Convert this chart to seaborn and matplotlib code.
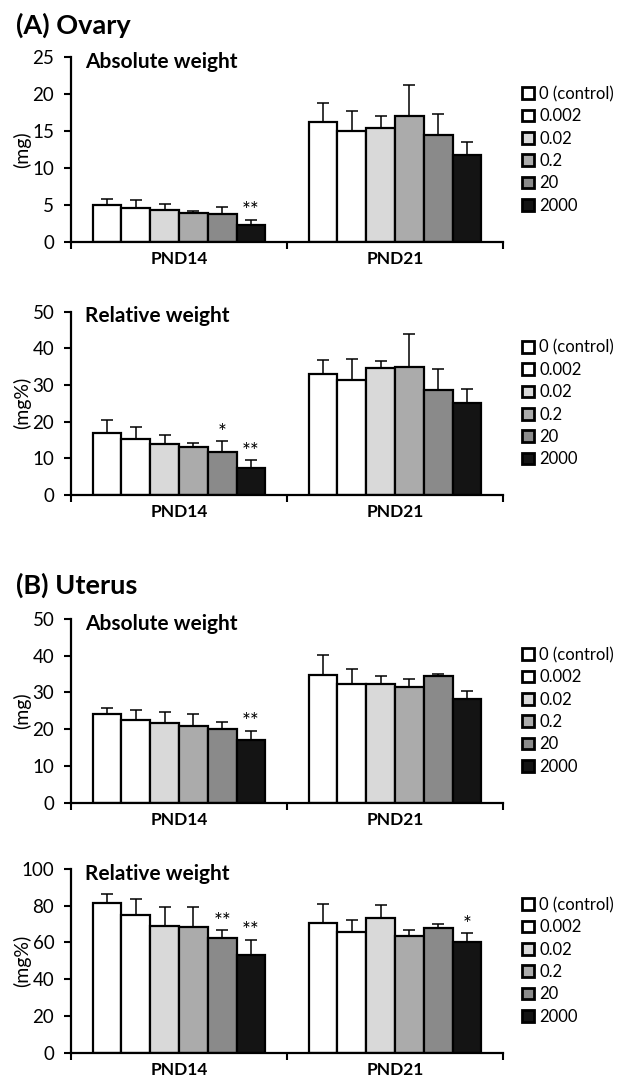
import numpy as np
import pandas as pd
import matplotlib
matplotlib.use("Agg")
import matplotlib.pyplot as plt
from matplotlib.patches import Patch
import seaborn as sns

# ---------------- data ----------------
days = ["PND14", "PND21"]
doses = ["0 (control)", "0.002", "0.02", "0.2", "20", "2000"]
colors = ["#ffffff", "#ffffff", "#d9d9d9", "#ababab", "#8a8a8a", "#141414"]

# Ovary absolute weight (mg)
ov_abs_14 = [5.0, 4.6, 4.4, 4.0, 3.8, 2.4]
ov_abs_14_se = [0.9, 1.1, 0.8, 0.2, 1.0, 0.6]
ov_abs_21 = [16.2, 15.1, 15.4, 17.1, 14.5, 11.8]
ov_abs_21_se = [2.6, 2.6, 1.7, 4.2, 2.9, 1.8]
ov_abs_sig_14 = ["", "", "", "", "", "**"]
ov_abs_sig_21 = ["", "", "", "", "", ""]

# Ovary relative weight (mg%)
ov_rel_14 = [16.8, 15.4, 14.0, 13.2, 11.8, 7.4]
ov_rel_14_se = [3.7, 3.2, 2.4, 1.1, 2.8, 2.1]
ov_rel_21 = [32.9, 31.3, 34.7, 35.0, 28.6, 25.0]
ov_rel_21_se = [4.0, 5.8, 1.8, 9.0, 5.9, 3.8]
ov_rel_sig_14 = ["", "", "", "", "*", "**"]
ov_rel_sig_21 = ["", "", "", "", "", ""]

# Uterus absolute weight (mg)
ut_abs_14 = [24.1, 22.6, 21.7, 20.8, 20.0, 17.0]
ut_abs_14_se = [1.6, 2.5, 3.0, 3.4, 1.9, 2.5]
ut_abs_21 = [34.8, 32.2, 32.2, 31.6, 34.5, 28.2]
ut_abs_21_se = [5.4, 4.1, 2.3, 2.0, 0.6, 2.1]
ut_abs_sig_14 = ["", "", "", "", "", "**"]
ut_abs_sig_21 = ["", "", "", "", "", ""]

# Uterus relative weight (mg%)
ut_rel_14 = [81.5, 74.7, 68.9, 68.5, 62.2, 53.3]
ut_rel_14_se = [4.9, 8.8, 10.2, 11.0, 4.5, 8.0]
ut_rel_21 = [70.5, 65.8, 73.3, 63.6, 68.0, 60.0]
ut_rel_21_se = [10.2, 6.4, 7.2, 3.1, 2.0, 5.0]
ut_rel_sig_14 = ["", "", "", "", "**", "**"]
ut_rel_sig_21 = ["", "", "", "", "", "*"]

panels = [
    dict(m=(ov_abs_14, ov_abs_21), s=(ov_abs_14_se, ov_abs_21_se), sig=(ov_abs_sig_14, ov_abs_sig_21),
         ylim=25, step=5, ylabel="(mg)", sub="Absolute weight", top=57.3, bot=242.3),
    dict(m=(ov_rel_14, ov_rel_21), s=(ov_rel_14_se, ov_rel_21_se), sig=(ov_rel_sig_14, ov_rel_sig_21),
         ylim=50, step=10, ylabel="(mg%)", sub="Relative weight", top=311.7, bot=495.0),
    dict(m=(ut_abs_14, ut_abs_21), s=(ut_abs_14_se, ut_abs_21_se), sig=(ut_abs_sig_14, ut_abs_sig_21),
         ylim=50, step=10, ylabel="(mg)", sub="Absolute weight", top=619.0, bot=802.7),
    dict(m=(ut_rel_14, ut_rel_21), s=(ut_rel_14_se, ut_rel_21_se), sig=(ut_rel_sig_14, ut_rel_sig_21),
         ylim=100, step=20, ylabel="(mg%)", sub="Relative weight", top=869.0, bot=1052.7),
]

# ---------------- style ----------------
sns.set_theme(style="white")
plt.rcParams["font.family"] = ["Lato", "DejaVu Sans"]
plt.rcParams["axes.edgecolor"] = "black"
plt.rcParams["xtick.color"] = "black"
plt.rcParams["ytick.color"] = "black"
plt.rcParams["text.color"] = "black"
plt.rcParams["axes.labelcolor"] = "black"

W, H = 629, 1080
fig = plt.figure(figsize=(W / 100, H / 100), dpi=100)
palette = dict(zip(doses, colors))

AX_L, AX_R = 71, 503

for p in panels:
    ax = fig.add_axes([AX_L / W, 1 - p["bot"] / H, (AX_R - AX_L) / W, (p["bot"] - p["top"]) / H])
    df = pd.DataFrame({
        "day": np.repeat(days, len(doses)),
        "dose": doses * 2,
        "value": list(p["m"][0]) + list(p["m"][1]),
    })
    sns.barplot(data=df, x="day", y="value", hue="dose", order=days, hue_order=doses,
                palette=palette, errorbar=None, edgecolor="black", linewidth=1.6,
                width=0.8, saturation=1, ax=ax, legend=False)

    bar_containers = list(ax.containers)[:len(doses)]
    # error bars (upper only) and significance marks from the bars seaborn drew
    for i, cont in enumerate(bar_containers):
        for j, bar in enumerate(cont.patches):
            x = bar.get_x() + bar.get_width() / 2
            h = bar.get_height()
            se = p["s"][j][i]
            ax.errorbar([x], [h], yerr=[[0], [se]], fmt="none", ecolor="black",
                        elinewidth=1.1, capsize=4, capthick=1.1, zorder=1)
            sg = p["sig"][j][i]
            if sg:
                ax.annotate(sg, (x, h + se), xytext=(0, -1), textcoords="offset points",
                            ha="center", va="bottom", fontsize=15)

    ax.set_ylim(0, p["ylim"])
    ax.set_yticks(np.arange(0, p["ylim"] + 0.01, p["step"]))
    ax.set_xlim(-0.5, 1.5)
    ax.set_xticks([0, 1])
    ax.set_xticklabels(days, fontsize=12.5, fontweight="bold")
    ax.set_xticks([-0.5, 0.5, 1.5], minor=True)
    ax.tick_params(axis="x", which="major", length=0, pad=6.5)
    ax.tick_params(axis="x", which="minor", length=5, width=1.5, direction="out", bottom=True)
    ax.tick_params(axis="y", which="major", length=5, width=1.5, direction="out", left=True,
                   labelsize=13.5, pad=7)
    for side in ("top", "right"):
        ax.spines[side].set_visible(False)
    for side in ("left", "bottom"):
        ax.spines[side].set_linewidth(1.6)
        ax.spines[side].set_color("black")
    ax.set_xlabel("")
    ax.set_ylabel(p["ylabel"], fontsize=14)
    ax.yaxis.set_label_coords(-0.092, 0.5)

    ax.text(0.032, 0.975, p["sub"], transform=ax.transAxes, ha="left", va="center",
            fontsize=15, fontweight="bold")

    handles = [Patch(facecolor=c, edgecolor="black", linewidth=2.0) for c in colors]
    ax.legend(handles, doses, loc="center left", bbox_to_anchor=(1.045, 0.5),
              frameon=False, handlelength=0.7, handleheight=0.7, handletextpad=0.3,
              labelspacing=0.38, fontsize=12, borderaxespad=0, borderpad=0)

fig.text(16 / W, 1 - 25 / H, "(A) Ovary", ha="left", va="center", fontsize=19.5, fontweight="bold")
fig.text(16 / W, 1 - 585 / H, "(B) Uterus", ha="left", va="center", fontsize=19.5, fontweight="bold")

fig.savefig("out.png", dpi=100)
